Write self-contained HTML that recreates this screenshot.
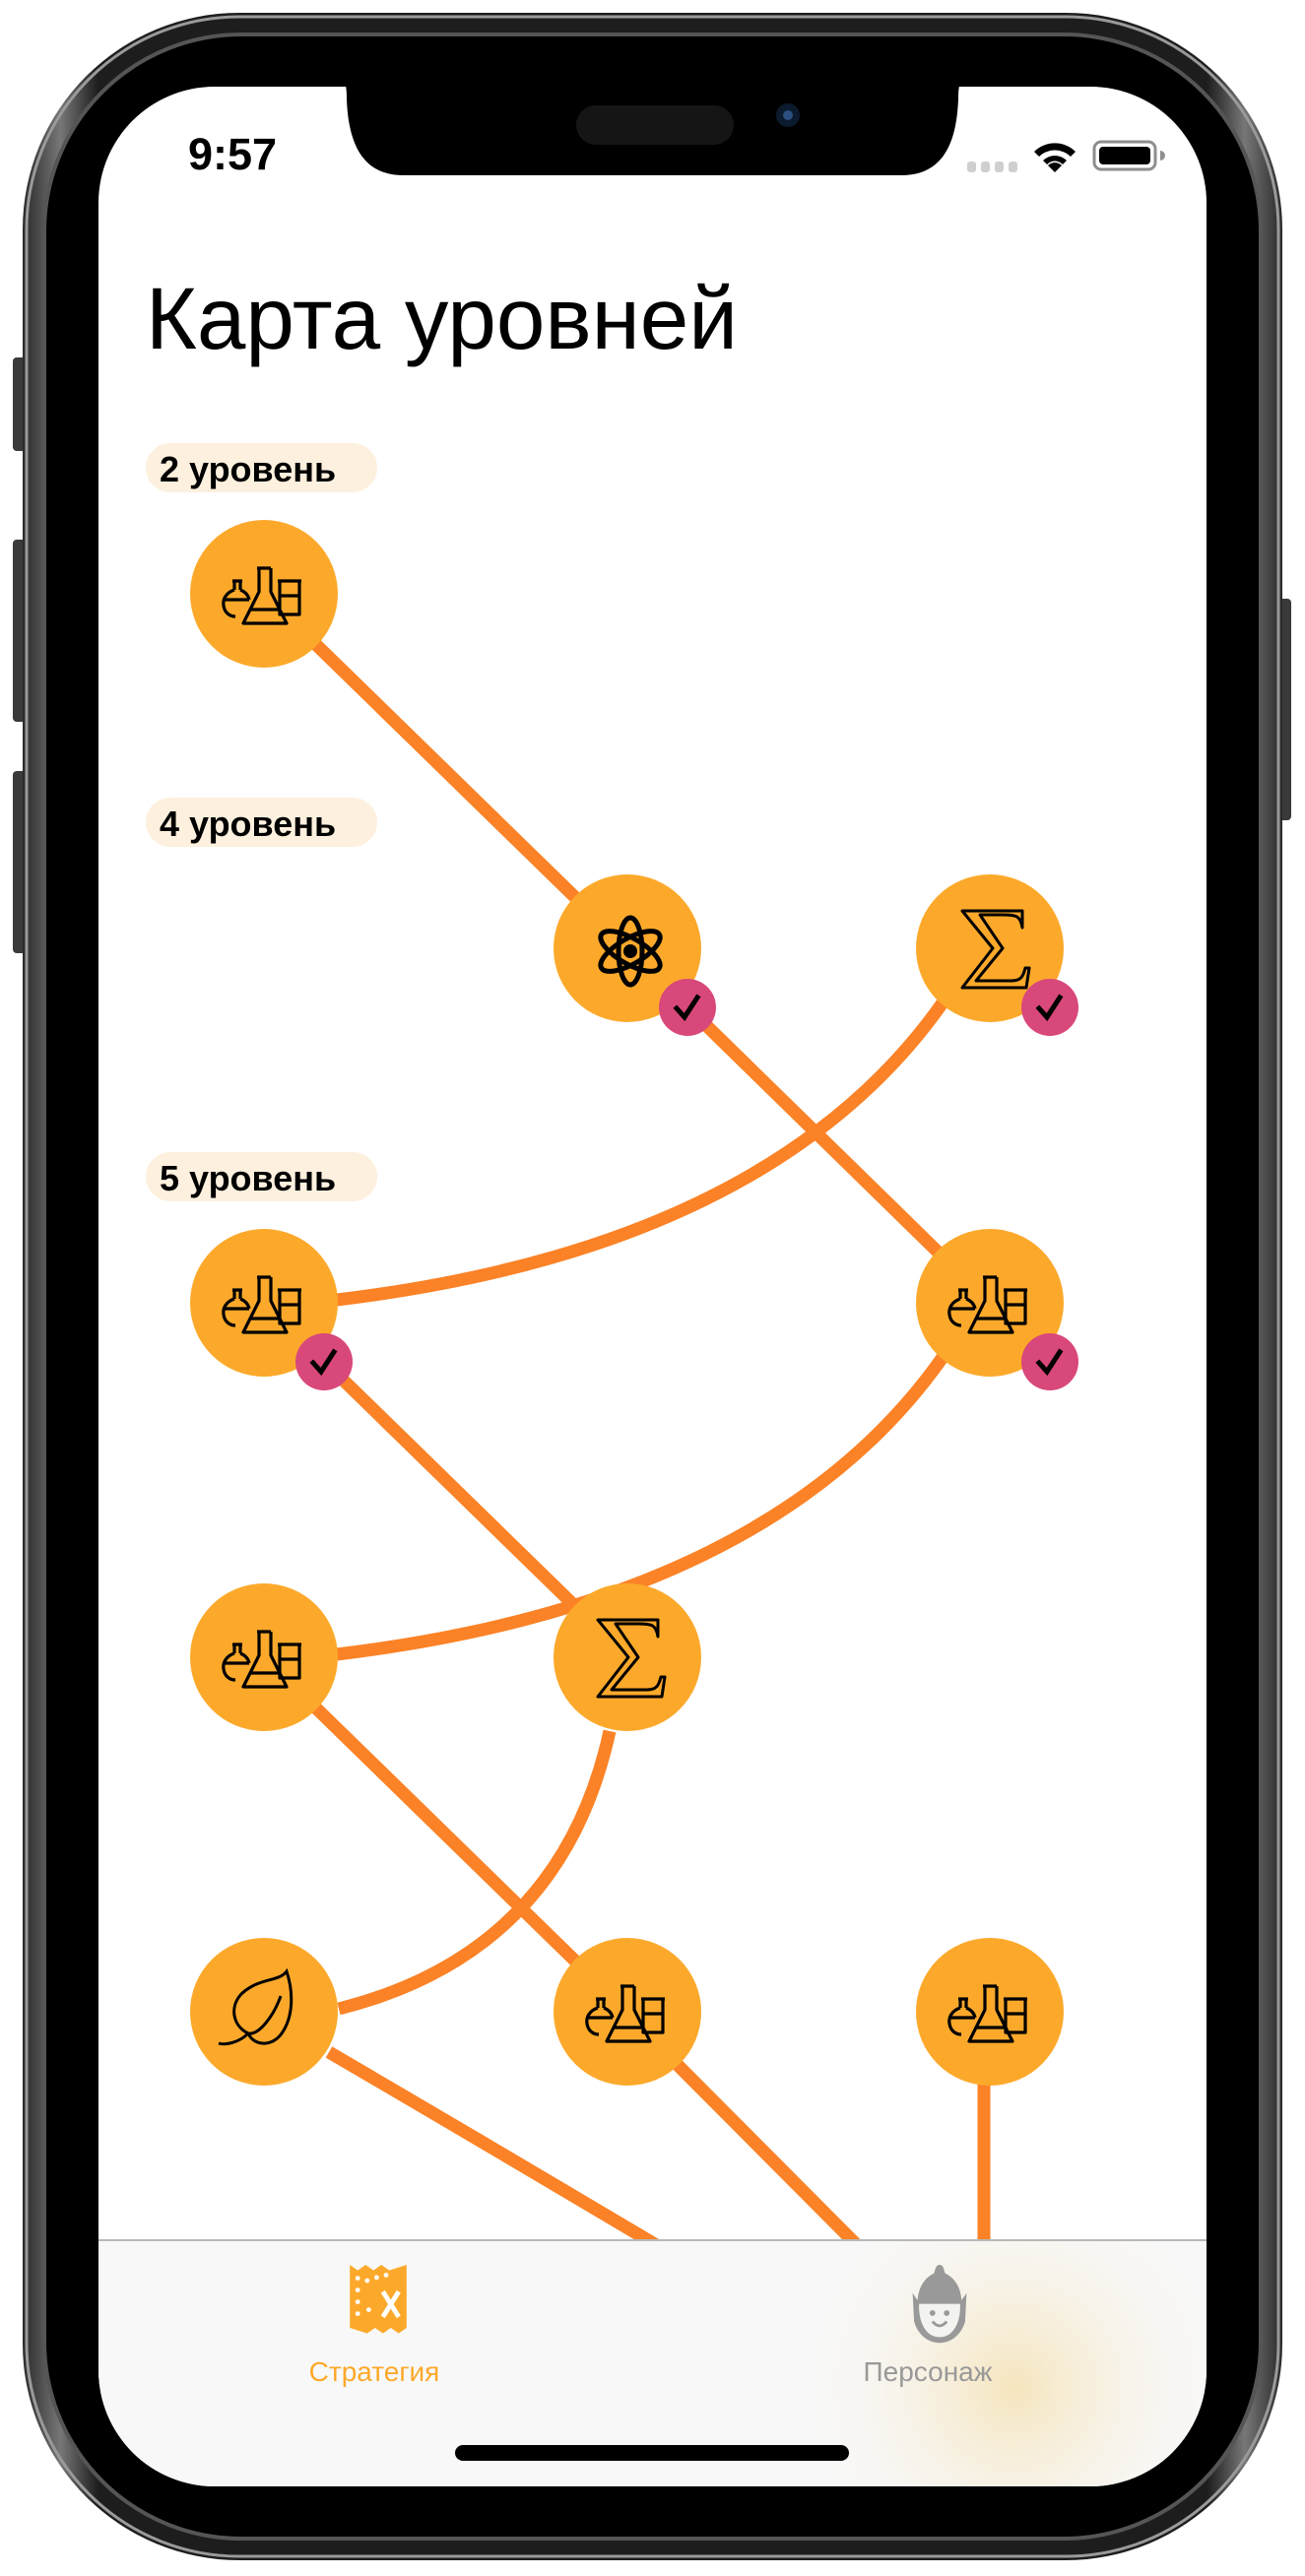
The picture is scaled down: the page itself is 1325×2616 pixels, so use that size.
<!DOCTYPE html>
<html><head><meta charset="utf-8"><style>
html,body{margin:0;padding:0;background:#fff;width:1325px;height:2616px;overflow:hidden}
svg{display:block}
text{font-family:"Liberation Sans",sans-serif}
</style></head><body>
<svg width="1325" height="2616" viewBox="0 0 1325 2616" xmlns="http://www.w3.org/2000/svg">
<defs>
<linearGradient id="rim" x1="0" y1="0" x2="1" y2="0">
<stop offset="0" stop-color="#2a2a2a"/><stop offset="0.03" stop-color="#777"/><stop offset="0.06" stop-color="#1d1d1d"/><stop offset="0.94" stop-color="#1d1d1d"/><stop offset="0.97" stop-color="#777"/><stop offset="1" stop-color="#2a2a2a"/>
</linearGradient>
<clipPath id="scr"><rect x="100" y="88" width="1125" height="2437" rx="118"/></clipPath>
<clipPath id="tab"><rect x="100" y="2276" width="1125" height="260"/></clipPath>
<radialGradient id="glow" cx="0.5" cy="0.5" r="0.5">
<stop offset="0" stop-color="#f6e5bd"/><stop offset="1" stop-color="#f8f8f8" stop-opacity="0"/>
</radialGradient>
<g id="flask" fill="none" stroke="#000" stroke-width="3.2" stroke-linejoin="round">
<path d="M-34,-15 h10 M-32,-15 v9 M-26,-15 v9 M-32,-6 c-9,3 -12,10 -11,16 c1,7 6,11 12,11 M-26,-6 c5,2 8,5 9,10"/>
<path d="M-44,4 h27"/>
<path d="M-9,-28 h14 M-7,-28 v24 L-23,28 h44 L5,-4 V-28"/>
<path d="M-15,14 h30"/>
<path d="M12,-15 h24 M14,-15 v34 h20 V-15 M14,0 h20"/>
</g>
<g id="sigma" fill="none" stroke="#000" stroke-width="3" stroke-linejoin="round">
<path d="M-33,-38 H28 V-21 C26,-33 22,-34 8,-34 H-15 L8,0 L-19,33 H17 C27,33 29,28 31,20 H35 L32,40 H-33 L-2,0 Z"/>
</g>
<g id="check"><circle r="29" fill="#d8487a"/><path d="M-11,1 L-3,10 L10,-10" fill="none" stroke="#000" stroke-width="5" stroke-linecap="square"/></g>
</defs>

<rect x="13" y="363" width="14" height="95" rx="4" fill="#3a3a3a"/>
<rect x="13" y="548" width="14" height="185" rx="4" fill="#3a3a3a"/>
<rect x="13" y="783" width="14" height="185" rx="4" fill="#3a3a3a"/>
<rect x="1297" y="608" width="14" height="225" rx="4" fill="#3a3a3a"/>
<rect x="23" y="13" width="1279" height="2587" rx="220" fill="url(#rim)"/>
<rect x="27" y="17" width="1271" height="2579" rx="216" fill="none" stroke="#9a9a9a" stroke-width="3"/>
<rect x="45" y="35" width="1235" height="2543" rx="200" fill="#000"/>
<rect x="45" y="35" width="1235" height="2543" rx="200" fill="none" stroke="#555" stroke-width="4"/>

<g clip-path="url(#scr)">
<rect x="100" y="88" width="1125" height="2437" fill="#fff"/>
<g fill="none" stroke="#fb8226" stroke-width="13">
<path d="M268,603 L637,963"/>
<path d="M637,963 L1005,1323"/>
<path d="M958,1017 Q783,1267 342,1320"/>
<path d="M958,1377 Q783,1627 342,1680"/>
<path d="M268,1323 L637,1683"/>
<path d="M268,1683 L637,2043"/>
<path d="M619,1758 Q570,1983 344,2040"/>
<path d="M334,2084 Q490,2175 700,2300"/>
<path d="M683,2092 L890,2300"/>
<path d="M999,2043 L999,2300"/>
</g>
<g fill="#fca92b">
<circle cx="268" cy="603" r="75"/><circle cx="637" cy="963" r="75"/><circle cx="1005" cy="963" r="75"/>
<circle cx="268" cy="1323" r="75"/><circle cx="1005" cy="1323" r="75"/>
<circle cx="268" cy="1683" r="75"/><circle cx="637" cy="1683" r="75"/>
<circle cx="268" cy="2043" r="75"/><circle cx="637" cy="2043" r="75"/><circle cx="1005" cy="2043" r="75"/>
</g>
<use href="#flask" x="270" y="605"/>
<use href="#flask" x="1007" y="1325"/>
<use href="#flask" x="270" y="1325"/>
<use href="#flask" x="270" y="1685"/>
<use href="#flask" x="639" y="2045"/>
<use href="#flask" x="1007" y="2045"/>
<use href="#sigma" x="1010" y="963"/>
<use href="#sigma" x="640" y="1683"/>
<g transform="translate(640,966)" fill="none" stroke="#000" stroke-width="5">
<ellipse rx="34" ry="13" transform="rotate(30)"/>
<ellipse rx="34" ry="13" transform="rotate(-30)"/>
<ellipse rx="34" ry="12" transform="rotate(90)"/>
<circle r="7" fill="#000" stroke="none"/>
</g>
<g transform="translate(268,2043)" fill="none" stroke="#000" stroke-width="3">
<path d="M23,-41 C15,-30 -5,-35 -23,-18 C-35,-5 -32,14 -16,22 C-10,35 8,36 18,22 C30,5 30,-20 23,-41 Z"/>
<path d="M17,-16 C10,4 -5,24 -16,22 C-26,32 -40,34 -46,32"/>
</g>
<use href="#check" x="698" y="1023"/>
<use href="#check" x="1066" y="1023"/>
<use href="#check" x="329" y="1383"/>
<use href="#check" x="1066" y="1383"/>

<rect x="148" y="450" width="235" height="50" rx="25" fill="#fdf0de"/>
<text x="162" y="489" font-size="36" font-weight="bold" fill="#000">2 уровень</text>
<rect x="148" y="810" width="235" height="50" rx="25" fill="#fdf0de"/>
<text x="162" y="849" font-size="36" font-weight="bold" fill="#000">4 уровень</text>
<rect x="148" y="1170" width="235" height="50" rx="25" fill="#fdf0de"/>
<text x="162" y="1209" font-size="36" font-weight="bold" fill="#000">5 уровень</text>
<text x="148" y="354" font-size="89" fill="#000">Карта уровней</text>

<rect x="100" y="2275" width="1125" height="260" fill="#f8f8f8"/>
<g clip-path="url(#tab)"><ellipse cx="1030" cy="2425" rx="230" ry="230" fill="url(#glow)"/></g>
<line x1="100" y1="2275" x2="1225" y2="2275" stroke="#b8b8b8" stroke-width="2"/>
<g transform="translate(384,2316) scale(0.8)">
<path d="M-36,-20 L-26,-13 L-16,-20 L-6,-13 L4,-20 L14,-13 L36,-20 V60 L26,67 L16,60 L6,67 L-4,60 L-14,67 L-36,60 Z" fill="#fca92b"/>
<g fill="#fff"><circle cx="-26" cy="-3" r="3"/><circle cx="-14" cy="0" r="3"/><circle cx="-2" cy="-4" r="3"/><circle cx="10" cy="-7" r="3"/><circle cx="-26" cy="12" r="3"/><circle cx="-26" cy="27" r="3"/><circle cx="-26" cy="42" r="3"/><circle cx="-12" cy="37" r="3"/></g>
<path d="M6,14 L26,46 M26,14 L6,46" stroke="#fff" stroke-width="6"/>
</g>
<text x="380" y="2418" font-size="28" fill="#fca92b" text-anchor="middle">Стратегия</text>
<g transform="translate(954,2336) scale(0.72)" fill="#999">
<path d="M0,-50 C6,-50 6,-42 8,-38 C24,-30 30,-15 31,0 L38,-10 L36,30 C30,50 15,60 0,60 C-15,60 -30,50 -36,30 L-38,-10 L-31,0 C-30,-15 -24,-30 -8,-38 C-6,-42 -6,-50 0,-50 Z"/>
<path d="M-29,5 H29 C30,30 20,52 0,52 C-20,52 -30,30 -29,5 Z" fill="#f3f3f0"/>
<circle cx="-10" cy="18" r="4"/><circle cx="10" cy="18" r="4"/>
<path d="M-10,30 Q0,42 10,30" fill="none" stroke="#999" stroke-width="4"/>
</g>
<text x="942" y="2418" font-size="28" fill="#999" text-anchor="middle">Персонаж</text>
<rect x="462" y="2483" width="400" height="16" rx="8" fill="#000"/>

<path d="M330,80 H345 C350,80 352,86 352,100 C354,160 378,178 410,178 H915 C947,178 971,160 973,100 C973,86 975,80 980,80 H995 V60 H330 Z" fill="#000"/>
<rect x="585" y="107" width="160" height="40" rx="20" fill="#151515"/>
<circle cx="800" cy="117" r="12" fill="#0c1a2e"/><circle cx="800" cy="117" r="5" fill="#2a4f80"/>
<text x="191" y="172" font-size="45" font-weight="bold" fill="#000">9:57</text>
<g fill="#cfcfcf"><rect x="982" y="164" width="9" height="11" rx="3"/><rect x="996" y="164" width="9" height="11" rx="3"/><rect x="1010" y="164" width="9" height="11" rx="3"/><rect x="1024" y="164" width="9" height="11" rx="3"/></g>
<g transform="translate(1071,175)" fill="#000">
<path d="M0,0 L-7,-7 A10,10 0 0 1 7,-7 Z"/>
<path d="M-12,-12 A17,17 0 0 1 12,-12 L8,-8 A11,11 0 0 0 -8,-8 Z"/>
<path d="M-21,-21 A30,30 0 0 1 21,-21 L16,-16 A23,23 0 0 0 -16,-16 Z"/>
</g>
<rect x="1111" y="144" width="62" height="28" rx="7" fill="none" stroke="#8e8e8e" stroke-width="3"/>
<rect x="1116" y="149" width="52" height="18" rx="4" fill="#000"/>
<path d="M1178,153 a5,5 0 0 1 0,10 z" fill="#8e8e8e"/>
</g>
</svg>
</body></html>
